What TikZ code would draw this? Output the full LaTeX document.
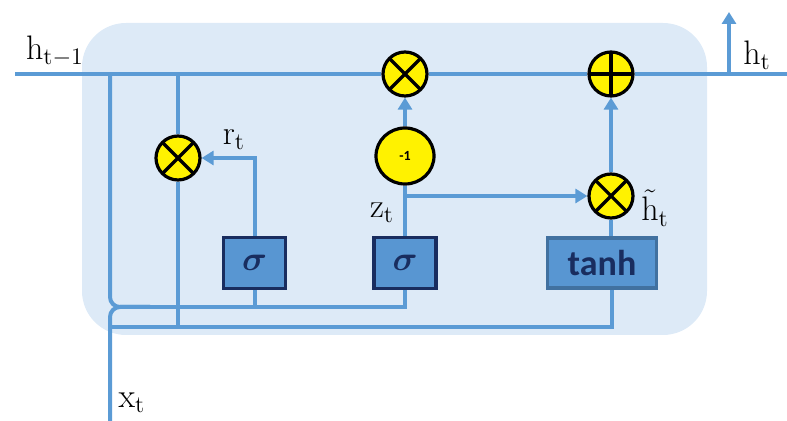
\documentclass[tikz,border=0pt]{standalone}
\usepackage{fontspec}
\usepackage{bm}
\usetikzlibrary{shapes.geometric,arrows.meta,calc}
\newfontfamily\carlito{Carlito}
\definecolor{wireblue}{RGB}{91,155,213}
\definecolor{cellbg}{RGB}{221,234,247}
\definecolor{gatefill}{RGB}{88,150,210}
\definecolor{navy}{RGB}{25,45,95}
\definecolor{tanhedge}{RGB}{65,113,160}
\pgfdeclarelayer{back}
\pgfdeclarelayer{wires}
\pgfsetlayers{back,wires,main}
\tikzset{
  wire/.style={draw=wireblue, line width=2pt},
  tip/.style={-{Triangle[length=6pt,width=7pt]}},
  mulop/.style={circle, draw=black, line width=1.6pt, fill=yellow,
    minimum size=22pt, inner sep=0pt,
    path picture={\draw[line width=1.6pt]
      (path picture bounding box.south west) -- (path picture bounding box.north east)
      (path picture bounding box.north west) -- (path picture bounding box.south east);}},
  addop/.style={circle, draw=black, line width=1.6pt, fill=yellow,
    minimum size=22pt, inner sep=0pt,
    path picture={\draw[line width=1.6pt]
      (path picture bounding box.north) -- (path picture bounding box.south)
      (path picture bounding box.west) -- (path picture bounding box.east);}},
  invop/.style={ellipse, draw=black, line width=1.6pt, fill=yellow,
    minimum width=29pt, minimum height=28pt, inner sep=0pt,
    font=\carlito\fontsize{7}{8}\selectfont\bfseries},
  sigbox/.style={rectangle, draw=navy, line width=1.6pt, fill=gatefill,
    minimum width=31pt, minimum height=25.5pt, inner sep=0pt,
    text=navy, font=\fontsize{19}{22}\selectfont},
  tanhbox/.style={rectangle, draw=tanhedge, line width=1.6pt, fill=gatefill,
    minimum width=54.5pt, minimum height=25pt, inner sep=0pt,
    text=navy, font=\carlito\fontsize{18}{20}\selectfont\bfseries},
  lbl/.style={inner sep=0pt, font=\fontsize{17}{20}\selectfont},
}
\begin{document}
\begin{tikzpicture}[x=0.5pt, y=-0.5pt]
\useasboundingbox (0,0) rectangle (787,421);

% cell background
\begin{pgfonlayer}{back}
  \fill[cellbg, rounded corners=22pt] (82,23) rectangle (707,335);
\end{pgfonlayer}

% operators and gates
\node[mulop] (mulr) at (178,158) {};
\node[mulop] (mulz) at (405,74) {};
\node[addop] (add)  at (611,74) {};
\node[mulop] (mulh) at (611,196) {};
\node[invop] (inv)  at (405,156) {-1};
\node[sigbox] (sigr) at (254.5,263) {$\bm{\sigma}$};
\node[sigbox] (sigz) at (405,263) {$\bm{\sigma}$};
\node[tanhbox] (tanh) at (602,263) {tanh};

% labels
\node[lbl] (lhprev) at (55,51) {$\mathrm{h_{t-1}}$};
\node[lbl] (lr)     at (234,140) {$\mathrm{r_t}$};
\node[lbl] (lz)     at (382,213) {$\mathrm{z_t}$};
\node[lbl] (lhtil)  at (655,208) {$\tilde{\mathrm{h}}_{\mathrm{t}}$};
\node[lbl] (lh)     at (757,55) {$\mathrm{h_t}$};
\node[lbl] (lx)     at (132,403) {$\mathrm{x_t}$};

% free ends and junctions
\coordinate (hin)   at (15,74);
\coordinate (hout)  at (787,74);
\coordinate (tapH)  at (729,74);
\coordinate (htop)  at (729,12);
\coordinate (tapL)  at (110,74);
\coordinate (tapR)  at (178,74);
\coordinate (xin)   at (110,421);
\coordinate (b1m)   at (150,307);
\coordinate (b2L)   at (110,327);
\coordinate (b2R)   at (612,327);
\coordinate (zb)    at (405,196);

\begin{pgfonlayer}{wires}
  % hidden state path
  \draw[wire] (hin) -- (mulz) -- (add) -- (hout);
  \draw[wire,tip] (tapH) -- (htop);
  % h_{t-1} and x_t merging into the gate bus
  \draw[wire, rounded corners=5pt] (tapL) |- (b1m);
  \draw[wire, rounded corners=5pt] (xin) |- (b1m);
  \draw[wire] (b1m) -| (sigz.south);
  \draw[wire] (sigr.south) -- (sigr.south |- b1m);
  % candidate bus
  \draw[wire] (b2L) -- (b2R) -- (b2R |- tanh.south);
  % reset path
  \draw[wire] (tapR) -- (mulr) -- (mulr |- b2L);
  \draw[wire,tip] (sigr.north) |- (mulr.east);
  % update path
  \draw[wire] (sigz.north) -- (inv.south);
  \draw[wire,tip] (inv.north) -- (mulz.south);
  \draw[wire,tip] (zb) -- (mulh.west);
  % candidate path
  \draw[wire] (mulh.south) -- (mulh.south |- tanh.north);
  \draw[wire,tip] (mulh.north) -- (add.south);
\end{pgfonlayer}
\end{tikzpicture}
\end{document}
